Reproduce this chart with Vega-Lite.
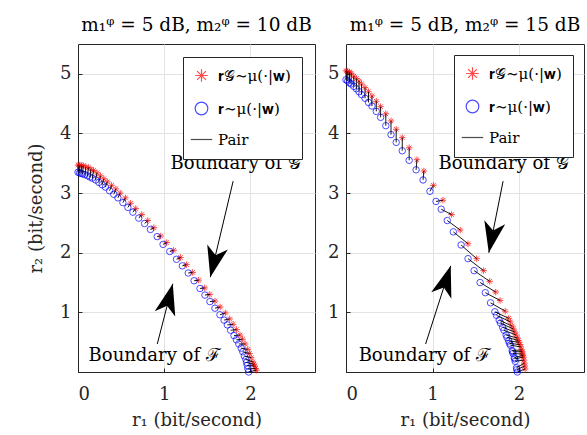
{
  "$schema": "https://vega.github.io/schema/vega-lite/v6.json",
  "padding": {"left": 26, "top": 15, "right": 2, "bottom": 2},
  "background": "white",
  "config": {
    "font": "DejaVu Serif",
    "view": {"stroke": "#262626", "strokeWidth": 1},
    "axis": {
      "labelFont": "DejaVu Serif", "labelFontSize": 18, "labelColor": "#262626",
      "titleFont": "DejaVu Serif", "titleFontSize": 18, "titleFontWeight": "normal", "titleColor": "#262626",
      "domainColor": "#262626", "tickColor": "#262626", "gridColor": "#e3e3e3", "grid": true,
      "tickSize": -4, "format": "d"
    },
    "axisX": {"labelPadding": 17, "titlePadding": 8},
    "axisY": {"labelPadding": 11},
    "title": {"font": "DejaVu Serif", "fontSize": 18.5, "fontWeight": "normal", "color": "black", "offset": 10, "anchor": "middle"},
    "legend": {
      "labelFont": "DejaVu Serif", "labelFontSize": 15, "labelColor": "black",
      "strokeColor": "#262626", "fillColor": "white", "padding": 11,
      "symbolStrokeWidth": 1.2, "rowPadding": 14, "labelOffset": 9
    }
  },
  "datasets": {
    "pts": [
      {"p":"L","i":0,"t":"G","r1":0.00,"r2":3.47},{"p":"L","i":0,"t":"F","r1":0.000,"r2":3.35},
      {"p":"L","i":1,"t":"G","r1":0.02,"r2":3.47},{"p":"L","i":1,"t":"F","r1":0.018,"r2":3.34},
      {"p":"L","i":2,"t":"G","r1":0.04,"r2":3.46},{"p":"L","i":2,"t":"F","r1":0.036,"r2":3.33},
      {"p":"L","i":3,"t":"G","r1":0.06,"r2":3.46},{"p":"L","i":3,"t":"F","r1":0.054,"r2":3.32},
      {"p":"L","i":4,"t":"G","r1":0.09,"r2":3.44},{"p":"L","i":4,"t":"F","r1":0.082,"r2":3.31},
      {"p":"L","i":5,"t":"G","r1":0.12,"r2":3.43},{"p":"L","i":5,"t":"F","r1":0.110,"r2":3.29},
      {"p":"L","i":6,"t":"G","r1":0.15,"r2":3.40},{"p":"L","i":6,"t":"F","r1":0.138,"r2":3.27},
      {"p":"L","i":7,"t":"G","r1":0.18,"r2":3.38},{"p":"L","i":7,"t":"F","r1":0.166,"r2":3.25},
      {"p":"L","i":8,"t":"G","r1":0.22,"r2":3.34},{"p":"L","i":8,"t":"F","r1":0.204,"r2":3.22},
      {"p":"L","i":9,"t":"G","r1":0.26,"r2":3.29},{"p":"L","i":9,"t":"F","r1":0.242,"r2":3.18},
      {"p":"L","i":10,"t":"G","r1":0.30,"r2":3.24},{"p":"L","i":10,"t":"F","r1":0.280,"r2":3.14},
      {"p":"L","i":11,"t":"G","r1":0.34,"r2":3.19},{"p":"L","i":11,"t":"F","r1":0.318,"r2":3.10},
      {"p":"L","i":12,"t":"G","r1":0.39,"r2":3.13},{"p":"L","i":12,"t":"F","r1":0.366,"r2":3.04},
      {"p":"L","i":13,"t":"G","r1":0.44,"r2":3.07},{"p":"L","i":13,"t":"F","r1":0.415,"r2":2.98},
      {"p":"L","i":14,"t":"G","r1":0.49,"r2":3.00},{"p":"L","i":14,"t":"F","r1":0.463,"r2":2.92},
      {"p":"L","i":15,"t":"G","r1":0.55,"r2":2.92},{"p":"L","i":15,"t":"F","r1":0.521,"r2":2.84},
      {"p":"L","i":16,"t":"G","r1":0.61,"r2":2.83},{"p":"L","i":16,"t":"F","r1":0.579,"r2":2.76},
      {"p":"L","i":17,"t":"G","r1":0.67,"r2":2.74},{"p":"L","i":17,"t":"F","r1":0.637,"r2":2.68},
      {"p":"L","i":18,"t":"G","r1":0.74,"r2":2.64},{"p":"L","i":18,"t":"F","r1":0.705,"r2":2.58},
      {"p":"L","i":19,"t":"G","r1":0.81,"r2":2.54},{"p":"L","i":19,"t":"F","r1":0.773,"r2":2.49},
      {"p":"L","i":20,"t":"G","r1":0.88,"r2":2.42},{"p":"L","i":20,"t":"F","r1":0.841,"r2":2.39},
      {"p":"L","i":21,"t":"G","r1":0.96,"r2":2.28},{"p":"L","i":21,"t":"F","r1":0.919,"r2":2.27},
      {"p":"L","i":22,"t":"G","r1":1.03,"r2":2.17},{"p":"L","i":22,"t":"F","r1":0.987,"r2":2.14},
      {"p":"L","i":23,"t":"G","r1":1.11,"r2":2.04},{"p":"L","i":23,"t":"F","r1":1.065,"r2":2.02},
      {"p":"L","i":24,"t":"G","r1":1.19,"r2":1.92},{"p":"L","i":24,"t":"F","r1":1.143,"r2":1.89},
      {"p":"L","i":25,"t":"G","r1":1.26,"r2":1.80},{"p":"L","i":25,"t":"F","r1":1.211,"r2":1.78},
      {"p":"L","i":26,"t":"G","r1":1.33,"r2":1.67},{"p":"L","i":26,"t":"F","r1":1.279,"r2":1.66},
      {"p":"L","i":27,"t":"G","r1":1.40,"r2":1.54},{"p":"L","i":27,"t":"F","r1":1.347,"r2":1.53},
      {"p":"L","i":28,"t":"G","r1":1.47,"r2":1.41},{"p":"L","i":28,"t":"F","r1":1.415,"r2":1.40},
      {"p":"L","i":29,"t":"G","r1":1.53,"r2":1.30},{"p":"L","i":29,"t":"F","r1":1.473,"r2":1.29},
      {"p":"L","i":30,"t":"G","r1":1.59,"r2":1.19},{"p":"L","i":30,"t":"F","r1":1.531,"r2":1.18},
      {"p":"L","i":31,"t":"G","r1":1.65,"r2":1.09},{"p":"L","i":31,"t":"F","r1":1.589,"r2":1.07},
      {"p":"L","i":32,"t":"G","r1":1.71,"r2":0.99},{"p":"L","i":32,"t":"F","r1":1.647,"r2":0.96},
      {"p":"L","i":33,"t":"G","r1":1.76,"r2":0.89},{"p":"L","i":33,"t":"F","r1":1.695,"r2":0.87},
      {"p":"L","i":34,"t":"G","r1":1.80,"r2":0.80},{"p":"L","i":34,"t":"F","r1":1.733,"r2":0.79},
      {"p":"L","i":35,"t":"G","r1":1.84,"r2":0.71},{"p":"L","i":35,"t":"F","r1":1.771,"r2":0.70},
      {"p":"L","i":36,"t":"G","r1":1.88,"r2":0.62},{"p":"L","i":36,"t":"F","r1":1.810,"r2":0.61},
      {"p":"L","i":37,"t":"G","r1":1.91,"r2":0.55},{"p":"L","i":37,"t":"F","r1":1.838,"r2":0.54},
      {"p":"L","i":38,"t":"G","r1":1.94,"r2":0.47},{"p":"L","i":38,"t":"F","r1":1.866,"r2":0.47},
      {"p":"L","i":39,"t":"G","r1":1.97,"r2":0.38},{"p":"L","i":39,"t":"F","r1":1.894,"r2":0.40},
      {"p":"L","i":40,"t":"G","r1":1.99,"r2":0.31},{"p":"L","i":40,"t":"F","r1":1.912,"r2":0.34},
      {"p":"L","i":41,"t":"G","r1":2.01,"r2":0.24},{"p":"L","i":41,"t":"F","r1":1.930,"r2":0.27},
      {"p":"L","i":42,"t":"G","r1":2.03,"r2":0.17},{"p":"L","i":42,"t":"F","r1":1.948,"r2":0.21},
      {"p":"L","i":43,"t":"G","r1":2.04,"r2":0.13},{"p":"L","i":43,"t":"F","r1":1.956,"r2":0.16},
      {"p":"L","i":44,"t":"G","r1":2.05,"r2":0.10},{"p":"L","i":44,"t":"F","r1":1.964,"r2":0.11},
      {"p":"L","i":45,"t":"G","r1":2.06,"r2":0.06},{"p":"L","i":45,"t":"F","r1":1.972,"r2":0.05},
      {"p":"L","i":46,"t":"G","r1":2.07,"r2":0.03},{"p":"L","i":46,"t":"F","r1":1.980,"r2":0.00},
      {"p":"R","i":0,"t":"G","r1":0.00,"r2":5.05},{"p":"R","i":0,"t":"F","r1":0.00,"r2":4.90},
      {"p":"R","i":1,"t":"G","r1":0.02,"r2":5.04},{"p":"R","i":1,"t":"F","r1":0.02,"r2":4.88},
      {"p":"R","i":2,"t":"G","r1":0.04,"r2":5.03},{"p":"R","i":2,"t":"F","r1":0.04,"r2":4.85},
      {"p":"R","i":3,"t":"G","r1":0.06,"r2":5.01},{"p":"R","i":3,"t":"F","r1":0.06,"r2":4.83},
      {"p":"R","i":4,"t":"G","r1":0.09,"r2":4.96},{"p":"R","i":4,"t":"F","r1":0.09,"r2":4.79},
      {"p":"R","i":5,"t":"G","r1":0.12,"r2":4.92},{"p":"R","i":5,"t":"F","r1":0.12,"r2":4.75},
      {"p":"R","i":6,"t":"G","r1":0.15,"r2":4.88},{"p":"R","i":6,"t":"F","r1":0.15,"r2":4.70},
      {"p":"R","i":7,"t":"G","r1":0.18,"r2":4.83},{"p":"R","i":7,"t":"F","r1":0.18,"r2":4.65},
      {"p":"R","i":8,"t":"G","r1":0.22,"r2":4.77},{"p":"R","i":8,"t":"F","r1":0.22,"r2":4.59},
      {"p":"R","i":9,"t":"G","r1":0.26,"r2":4.70},{"p":"R","i":9,"t":"F","r1":0.26,"r2":4.52},
      {"p":"R","i":10,"t":"G","r1":0.30,"r2":4.63},{"p":"R","i":10,"t":"F","r1":0.30,"r2":4.46},
      {"p":"R","i":11,"t":"G","r1":0.35,"r2":4.54},{"p":"R","i":11,"t":"F","r1":0.35,"r2":4.37},
      {"p":"R","i":12,"t":"G","r1":0.40,"r2":4.45},{"p":"R","i":12,"t":"F","r1":0.40,"r2":4.27},
      {"p":"R","i":13,"t":"G","r1":0.46,"r2":4.33},{"p":"R","i":13,"t":"F","r1":0.46,"r2":4.13},
      {"p":"R","i":14,"t":"G","r1":0.52,"r2":4.21},{"p":"R","i":14,"t":"F","r1":0.52,"r2":3.98},
      {"p":"R","i":15,"t":"G","r1":0.58,"r2":4.07},{"p":"R","i":15,"t":"F","r1":0.58,"r2":3.85},
      {"p":"R","i":16,"t":"G","r1":0.65,"r2":3.93},{"p":"R","i":16,"t":"F","r1":0.65,"r2":3.71},
      {"p":"R","i":17,"t":"G","r1":0.73,"r2":3.76},{"p":"R","i":17,"t":"F","r1":0.73,"r2":3.55},
      {"p":"R","i":18,"t":"G","r1":0.82,"r2":3.56},{"p":"R","i":18,"t":"F","r1":0.81,"r2":3.39},
      {"p":"R","i":19,"t":"G","r1":0.90,"r2":3.37},{"p":"R","i":19,"t":"F","r1":0.89,"r2":3.22},
      {"p":"R","i":20,"t":"G","r1":1.01,"r2":3.13},{"p":"R","i":20,"t":"F","r1":0.97,"r2":3.03},
      {"p":"R","i":21,"t":"G","r1":1.12,"r2":2.88},{"p":"R","i":21,"t":"F","r1":1.04,"r2":2.86},
      {"p":"R","i":22,"t":"G","r1":1.22,"r2":2.64},{"p":"R","i":22,"t":"F","r1":1.10,"r2":2.73},
      {"p":"R","i":23,"t":"G","r1":1.32,"r2":2.38},{"p":"R","i":23,"t":"F","r1":1.17,"r2":2.54},
      {"p":"R","i":24,"t":"G","r1":1.41,"r2":2.15},{"p":"R","i":24,"t":"F","r1":1.24,"r2":2.35},
      {"p":"R","i":25,"t":"G","r1":1.51,"r2":1.90},{"p":"R","i":25,"t":"F","r1":1.33,"r2":2.13},
      {"p":"R","i":26,"t":"G","r1":1.59,"r2":1.70},{"p":"R","i":26,"t":"F","r1":1.41,"r2":1.90},
      {"p":"R","i":27,"t":"G","r1":1.66,"r2":1.52},{"p":"R","i":27,"t":"F","r1":1.48,"r2":1.70},
      {"p":"R","i":28,"t":"G","r1":1.73,"r2":1.34},{"p":"R","i":28,"t":"F","r1":1.55,"r2":1.50},
      {"p":"R","i":29,"t":"G","r1":1.78,"r2":1.20},{"p":"R","i":29,"t":"F","r1":1.61,"r2":1.33},
      {"p":"R","i":30,"t":"G","r1":1.84,"r2":1.02},{"p":"R","i":30,"t":"F","r1":1.67,"r2":1.16},
      {"p":"R","i":31,"t":"G","r1":1.88,"r2":0.90},{"p":"R","i":31,"t":"F","r1":1.72,"r2":1.01},
      {"p":"R","i":32,"t":"G","r1":1.90,"r2":0.84},{"p":"R","i":32,"t":"F","r1":1.74,"r2":0.95},
      {"p":"R","i":33,"t":"G","r1":1.92,"r2":0.77},{"p":"R","i":33,"t":"F","r1":1.77,"r2":0.87},
      {"p":"R","i":34,"t":"G","r1":1.935,"r2":0.72},{"p":"R","i":34,"t":"F","r1":1.785,"r2":0.82},
      {"p":"R","i":35,"t":"G","r1":1.95,"r2":0.67},{"p":"R","i":35,"t":"F","r1":1.81,"r2":0.75},
      {"p":"R","i":36,"t":"G","r1":1.965,"r2":0.62},{"p":"R","i":36,"t":"F","r1":1.825,"r2":0.70},
      {"p":"R","i":37,"t":"G","r1":1.98,"r2":0.57},{"p":"R","i":37,"t":"F","r1":1.85,"r2":0.62},
      {"p":"R","i":38,"t":"G","r1":1.99,"r2":0.53},{"p":"R","i":38,"t":"F","r1":1.86,"r2":0.58},
      {"p":"R","i":39,"t":"G","r1":2.00,"r2":0.50},{"p":"R","i":39,"t":"F","r1":1.88,"r2":0.52},
      {"p":"R","i":40,"t":"G","r1":2.01,"r2":0.46},{"p":"R","i":40,"t":"F","r1":1.89,"r2":0.48},
      {"p":"R","i":41,"t":"G","r1":2.02,"r2":0.42},{"p":"R","i":41,"t":"F","r1":1.90,"r2":0.45},
      {"p":"R","i":42,"t":"G","r1":2.03,"r2":0.37},{"p":"R","i":42,"t":"F","r1":1.92,"r2":0.36},
      {"p":"R","i":43,"t":"G","r1":2.035,"r2":0.34},{"p":"R","i":43,"t":"F","r1":1.925,"r2":0.34},
      {"p":"R","i":44,"t":"G","r1":2.04,"r2":0.30},{"p":"R","i":44,"t":"F","r1":1.93,"r2":0.31},
      {"p":"R","i":45,"t":"G","r1":2.045,"r2":0.28},{"p":"R","i":45,"t":"F","r1":1.945,"r2":0.24},
      {"p":"R","i":46,"t":"G","r1":2.05,"r2":0.25},{"p":"R","i":46,"t":"F","r1":1.95,"r2":0.22},
      {"p":"R","i":47,"t":"G","r1":2.055,"r2":0.20},{"p":"R","i":47,"t":"F","r1":1.955,"r2":0.18},
      {"p":"R","i":48,"t":"G","r1":2.06,"r2":0.15},{"p":"R","i":48,"t":"F","r1":1.97,"r2":0.07},
      {"p":"R","i":49,"t":"G","r1":2.065,"r2":0.10},{"p":"R","i":49,"t":"F","r1":1.975,"r2":0.04},
      {"p":"R","i":50,"t":"G","r1":2.07,"r2":0.05},{"p":"R","i":50,"t":"F","r1":1.98,"r2":0.00}
    ],
    "ann": [
      {"p":"L","label":"Boundary of 𝒢","x":1.83,"y":3.48},
      {"p":"L","label":"Boundary of ℱ","x":0.89,"y":0.27},
      {"p":"R","label":"Boundary of 𝒢","x":1.82,"y":3.48},
      {"p":"R","label":"Boundary of ℱ","x":0.91,"y":0.27}
    ],
    "arr": [
      {"p":"L","a":"G","x0":1.80,"y0":3.20,"x1":1.535,"y1":1.59},
      {"p":"L","a":"F","x0":0.92,"y0":0.47,"x1":1.10,"y1":1.48},
      {"p":"R","a":"G","x0":1.815,"y0":3.20,"x1":1.65,"y1":2.00},
      {"p":"R","a":"F","x0":0.92,"y0":0.47,"x1":1.21,"y1":1.78}
    ]
  },
  "spacing": 11,
  "resolve": {"legend": {"color": "independent", "shape": "independent"}},
  "hconcat": [
    {
      "width": 237, "height": 328,
      "title": "m₁ᵠ = 5 dB, m₂ᵠ = 10 dB",
      "layer": [
        {
          "data": {"name": "pts"},
          "transform": [{"filter": "datum.p === 'L'"}],
          "mark": {"type": "point", "filled": false, "size": 42, "strokeWidth": 1},
          "encoding": {
            "x": {"field": "r1", "type": "quantitative", "scale": {"domain": [0, 2.75], "nice": false}, "axis": {"values": [0, 1, 2], "title": "r₁ (bit/second)"}},
            "y": {"field": "r2", "type": "quantitative", "scale": {"domain": [0, 5.5], "nice": false}, "axis": {"values": [1, 2, 3, 4, 5], "title": "r₂ (bit/second)", "titleX": -42, "titleBaseline": "middle"}},
            "color": {"field": "t", "type": "nominal", "scale": {"domain": ["G", "F", "Pair"], "range": ["#ff0000", "#0000ff", "#000000"]},
              "legend": {"title": null, "orient": "top-right", "offset": 13, "symbolSize": 160, "labelExpr": "datum.value === 'G' ? '𝐫𝒢∼μ(·|𝐰)' : datum.value === 'F' ? '𝐫∼μ(·|𝐰)' : 'Pair'"}},
            "shape": {"field": "t", "type": "nominal", "scale": {"domain": ["G", "F", "Pair"], "range": ["M0,-1L0,1M-1,0L1,0M-0.7,-0.7L0.7,0.7M-0.7,0.7L0.7,-0.7", "circle", "M-1.7,0L1.7,0"]},
              "legend": {"title": null, "orient": "top-right", "offset": 13, "symbolSize": 160, "labelExpr": "datum.value === 'G' ? '𝐫𝒢∼μ(·|𝐰)' : datum.value === 'F' ? '𝐫∼μ(·|𝐰)' : 'Pair'"}}
          }
        },
        {
          "data": {"name": "pts"},
          "transform": [{"filter": "datum.p === 'L'"}],
          "mark": {"type": "line", "color": "black", "strokeWidth": 0.9},
          "encoding": {
            "x": {"field": "r1", "type": "quantitative"},
            "y": {"field": "r2", "type": "quantitative"},
            "detail": {"field": "i", "type": "nominal"}
          }
        },
        {
          "data": {"name": "arr"},
          "transform": [{"filter": "datum.p === 'L'"}],
          "mark": {"type": "rule", "color": "black", "strokeWidth": 1},
          "encoding": {
            "x": {"field": "x0", "type": "quantitative"},
            "y": {"field": "y0", "type": "quantitative"},
            "x2": {"field": "x1"},
            "y2": {"field": "y1"}
          }
        },
        {
          "data": {"name": "arr"},
          "transform": [{"filter": "datum.p === 'L' && datum.a === 'G'"}],
          "mark": {"type": "point", "filled": true, "color": "black", "opacity": 1, "strokeWidth": 0, "size": 800, "angle": 193.5, "shape": "M0,0L0.75,2.2L0,1.6L-0.75,2.2Z"},
          "encoding": {
            "x": {"field": "x1", "type": "quantitative"},
            "y": {"field": "y1", "type": "quantitative"}
          }
        },
        {
          "data": {"name": "arr"},
          "transform": [{"filter": "datum.p === 'L' && datum.a === 'F'"}],
          "mark": {"type": "point", "filled": true, "color": "black", "opacity": 1, "strokeWidth": 0, "size": 800, "angle": 14.6, "shape": "M0,0L0.75,2.2L0,1.6L-0.75,2.2Z"},
          "encoding": {
            "x": {"field": "x1", "type": "quantitative"},
            "y": {"field": "y1", "type": "quantitative"}
          }
        },
        {
          "data": {"name": "ann"},
          "transform": [{"filter": "datum.p === 'L'"}],
          "mark": {"type": "text", "font": "DejaVu Serif", "fontSize": 18, "color": "black", "align": "center", "baseline": "middle"},
          "encoding": {
            "x": {"field": "x", "type": "quantitative"},
            "y": {"field": "y", "type": "quantitative"},
            "text": {"field": "label"}
          }
        }
      ]
    },
    {
      "width": 238, "height": 328,
      "title": "m₁ᵠ = 5 dB, m₂ᵠ = 15 dB",
      "layer": [
        {
          "data": {"name": "pts"},
          "transform": [{"filter": "datum.p === 'R'"}],
          "mark": {"type": "point", "filled": false, "size": 42, "strokeWidth": 1},
          "encoding": {
            "x": {"field": "r1", "type": "quantitative", "scale": {"domain": [0, 2.75], "nice": false}, "axis": {"values": [0, 1, 2], "title": "r₁ (bit/second)"}},
            "y": {"field": "r2", "type": "quantitative", "scale": {"domain": [0, 5.5], "nice": false}, "axis": {"values": [1, 2, 3, 4, 5], "title": null}},
            "color": {"field": "t", "type": "nominal", "scale": {"domain": ["G", "F", "Pair"], "range": ["#ff0000", "#0000ff", "#000000"]},
              "legend": {"title": null, "orient": "top-right", "offset": 11, "symbolSize": 160, "labelExpr": "datum.value === 'G' ? '𝐫𝒢∼μ(·|𝐰)' : datum.value === 'F' ? '𝐫∼μ(·|𝐰)' : 'Pair'"}},
            "shape": {"field": "t", "type": "nominal", "scale": {"domain": ["G", "F", "Pair"], "range": ["M0,-1L0,1M-1,0L1,0M-0.7,-0.7L0.7,0.7M-0.7,0.7L0.7,-0.7", "circle", "M-1.7,0L1.7,0"]},
              "legend": {"title": null, "orient": "top-right", "offset": 11, "symbolSize": 160, "labelExpr": "datum.value === 'G' ? '𝐫𝒢∼μ(·|𝐰)' : datum.value === 'F' ? '𝐫∼μ(·|𝐰)' : 'Pair'"}}
          }
        },
        {
          "data": {"name": "pts"},
          "transform": [{"filter": "datum.p === 'R'"}],
          "mark": {"type": "line", "color": "black", "strokeWidth": 0.9},
          "encoding": {
            "x": {"field": "r1", "type": "quantitative"},
            "y": {"field": "r2", "type": "quantitative"},
            "detail": {"field": "i", "type": "nominal"}
          }
        },
        {
          "data": {"name": "arr"},
          "transform": [{"filter": "datum.p === 'R'"}],
          "mark": {"type": "rule", "color": "black", "strokeWidth": 1},
          "encoding": {
            "x": {"field": "x0", "type": "quantitative"},
            "y": {"field": "y0", "type": "quantitative"},
            "x2": {"field": "x1"},
            "y2": {"field": "y1"}
          }
        },
        {
          "data": {"name": "arr"},
          "transform": [{"filter": "datum.p === 'R' && datum.a === 'G'"}],
          "mark": {"type": "point", "filled": true, "color": "black", "opacity": 1, "strokeWidth": 0, "size": 800, "angle": 191, "shape": "M0,0L0.75,2.2L0,1.6L-0.75,2.2Z"},
          "encoding": {
            "x": {"field": "x1", "type": "quantitative"},
            "y": {"field": "y1", "type": "quantitative"}
          }
        },
        {
          "data": {"name": "arr"},
          "transform": [{"filter": "datum.p === 'R' && datum.a === 'F'"}],
          "mark": {"type": "point", "filled": true, "color": "black", "opacity": 1, "strokeWidth": 0, "size": 800, "angle": 17.7, "shape": "M0,0L0.75,2.2L0,1.6L-0.75,2.2Z"},
          "encoding": {
            "x": {"field": "x1", "type": "quantitative"},
            "y": {"field": "y1", "type": "quantitative"}
          }
        },
        {
          "data": {"name": "ann"},
          "transform": [{"filter": "datum.p === 'R'"}],
          "mark": {"type": "text", "font": "DejaVu Serif", "fontSize": 18, "color": "black", "align": "center", "baseline": "middle"},
          "encoding": {
            "x": {"field": "x", "type": "quantitative"},
            "y": {"field": "y", "type": "quantitative"},
            "text": {"field": "label"}
          }
        }
      ]
    }
  ]
}
